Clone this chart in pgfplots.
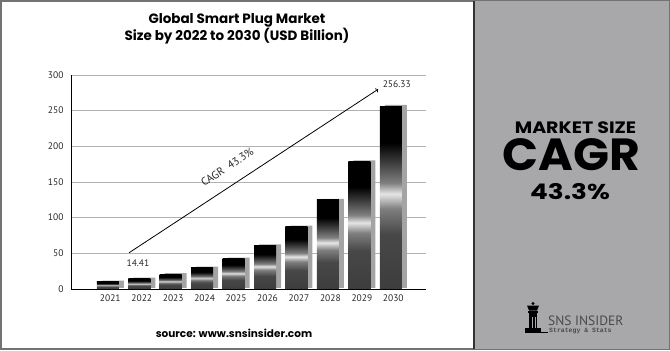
\documentclass[border=0pt]{standalone}
\usepackage{pgfplots}
\usepackage{pgfplotstable}
\pgfplotsset{compat=1.18}
\usepackage{fontspec}
\setmainfont{PT Sans}
\newfontfamily\pop{Poppins}
\newfontfamily\mono{Liberation Mono}

\definecolor{panel}{HTML}{A8A8AB}
\definecolor{shadowgray}{HTML}{A4A4A4}
\definecolor{logogray}{HTML}{4A4A4A}

\pgfdeclareverticalshading{barshade}{100bp}{
 rgb(0bp)=(0.24,0.24,0.24);
 rgb(25bp)=(0.24,0.24,0.24);
 rgb(40bp)=(0.28,0.28,0.28);
 rgb(47bp)=(0.5,0.5,0.5);
 rgb(51bp)=(0.9,0.9,0.9);
 rgb(54bp)=(0.5,0.5,0.5);
 rgb(60bp)=(0.22,0.22,0.22);
 rgb(65bp)=(0,0,0);
 rgb(100bp)=(0,0,0)}

\pgfplotstableread{
x v
0 10.06
1 14.41
2 20.65
3 29.59
4 42.40
5 60.76
6 87.07
7 124.77
8 178.79
9 256.33
}\data

\begin{document}
\begin{tikzpicture}[x=1bp,y=1bp]
\useasboundingbox (0,0) rectangle (670,350);
% outer frame
\draw[black!55, line width=1.5bp] (1,1) rectangle (669,349);
% right panel
\fill[panel] (474,1.5) rectangle (668.5,348.5);
\draw[black!80, line width=1.5bp] (474,0.75) -- (474,349.25);

\begin{axis}[
  at={(71bp,61bp)}, anchor=south west,
  scale only axis, width=355bp, height=214bp,
  xmin=-1.25, xmax=10.04, ymin=0, ymax=300,
  axis lines*=left,
  axis line style={-, black, line width=0.9bp},
  ytick={0,50,...,300},
  xtick={0,...,9},
  xticklabels={2021,2022,2023,2024,2025,2026,2027,2028,2029,2030},
  /pgf/number format/assume math mode=true,
  yticklabel={\pgfmathprintnumber{\tick}},
  major tick length=0pt,
  ymajorgrids,
  grid style={line width=0.7bp, color=black!30},
  tick label style={font=\fontsize{9.5bp}{11bp}\selectfont, text=black!85},
  yticklabel style={xshift=-4bp},
  xticklabel style={yshift=-2bp},
  clip=false,
  frontbar/.style={ybar, bar width=22bp, bar shift=-2.5bp, draw=none, shade, shading=barshade, forget plot},
]
\addplot[ybar, bar width=22bp, bar shift=2.5bp, fill=shadowgray, draw=none, forget plot, yshift=1.2bp] table[x=x,y=v]{\data};
\addplot[frontbar] coordinates {(0,10.06)};
\addplot[frontbar] coordinates {(1,14.41)};
\addplot[frontbar] coordinates {(2,20.65)};
\addplot[frontbar] coordinates {(3,29.59)};
\addplot[frontbar] coordinates {(4,42.40)};
\addplot[frontbar] coordinates {(5,60.76)};
\addplot[frontbar] coordinates {(6,87.07)};
\addplot[frontbar] coordinates {(7,124.77)};
\addplot[frontbar] coordinates {(8,178.79)};
\addplot[frontbar] coordinates {(9,256.33)};
\draw[->, line width=0.8bp] (axis cs:0.60,50.9) -- (axis cs:8.52,280.1);
\node[font=\fontsize{9.5bp}{11bp}\selectfont, text=black!85] at (axis cs:0.88,36.5) {14.41};
\node[font=\fontsize{9.5bp}{11bp}\selectfont, text=black!85] at (axis cs:9.11,287.5) {256.33};
\node[font=\fontsize{11bp}{12bp}\selectfont, text=black!85, rotate=33] at (axis cs:3.72,171) {CAGR\ \ 43.3\%};
\end{axis}
\draw[black, line width=0.9bp] (71,61) -- (426,61);

% title
\node[align=center, font=\pop\bfseries\fontsize{13.5bp}{17bp}\selectfont] at (237,321.5) {Global Smart Plug Market\\Size by 2022 to 2030 (USD Billion)};
% source
\node[font=\pop\bfseries\fontsize{10.5bp}{12bp}\selectfont] at (234,17) {source: www.snsinsider.com};

% right panel text
\node[anchor=base, font=\pop\bfseries\fontsize{16.5bp}{18bp}\selectfont] at (575.5,217) {\scalebox{1.15}[1]{MARKET SIZE}};
\node[anchor=base, font=\pop\bfseries\fontsize{45bp}{47bp}\selectfont] at (571,180) {\scalebox{1.05}[1]{CAGR}};
\node[anchor=base, font=\pop\bfseries\fontsize{21.5bp}{23bp}\selectfont] at (570,151) {\scalebox{1.22}[1]{43.3\%}};

% logo
\fill[black] (533,46.5) circle (1.6);
\fill[black] (527,44.5) -- (539,44.5) -- (537,39.5) -- (529,39.5) -- cycle;
\fill[black] (528,37) rectangle (538,39.5);
\fill[black] (529,22) rectangle (537,37);
\fill[panel] (531.5,22) rectangle (532.5,33);
\fill[panel] (534.5,22) rectangle (535.2,33);
\fill[black] (525,17.5) rectangle (541,22);
\draw[black, line width=0.8bp] (541,18) -- (548,18);
\node[anchor=base west, inner sep=0, font=\fontsize{13.5bp}{14bp}\selectfont, text=logogray] at (548,25) {SNS INSIDER};
\node[anchor=base west, inner sep=0, font=\mono\bfseries\fontsize{6.5bp}{7bp}\selectfont, text=logogray] at (549,17.5) {Strategy \& Stats};
\end{tikzpicture}
\end{document}
